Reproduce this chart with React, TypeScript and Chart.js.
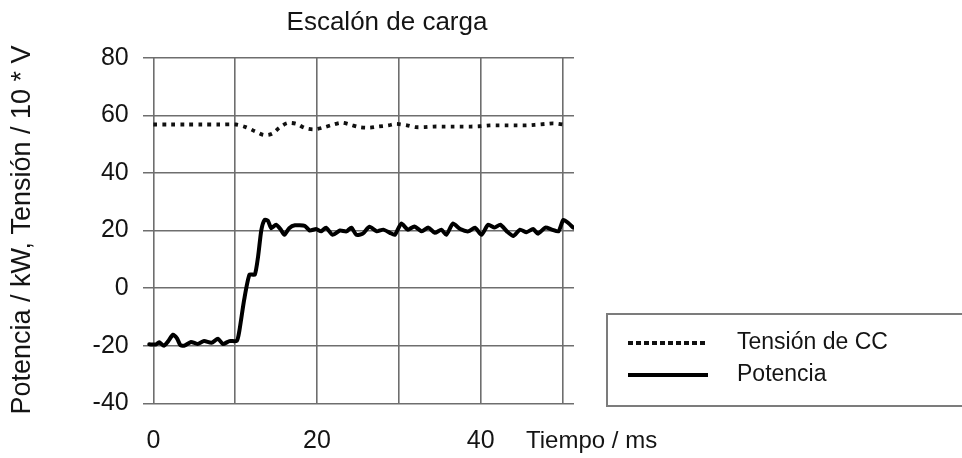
import { useEffect, useRef } from "react";
import { Chart, registerables } from "chart.js";

Chart.register(...registerables);

const TITLE = "Escalón de carga";
const Y_TITLE = "Potencia / kW, Tensión / 10 * V";
const X_TITLE = "Tiempo / ms";
const SERIES_NAMES = ["Tensión de CC", "Potencia"];

const X_GRID_TICKS = [0, 10, 20, 30, 40, 50];
const X_LABELED_TICKS = [0, 20, 40];
const Y_MIN = -40;
const Y_MAX = 80;
const Y_STEP = 20;

// Tensión de CC (10 * V)
const VOLT_T = [0, 2, 4, 6, 8, 10.1, 11.3, 12.4, 13.5, 14.5, 15.4, 16.4, 17.5, 18.5, 19.6, 20.7, 21.9, 23.0, 24.0, 25.2, 26.4, 27.5, 28.7, 29.7, 31.0, 32.0, 33.2, 34.2, 35.4, 36.6, 37.6, 38.8, 39.8, 41.1, 42.1, 43.2, 44.4, 45.6, 46.6, 47.9, 48.9, 50.1];
const VOLT_V = [56.8, 56.8, 56.8, 56.8, 56.8, 56.8, 55.9, 54.5, 53.2, 53.6, 55.7, 57.3, 57.0, 55.6, 55.1, 55.7, 56.7, 57.4, 56.8, 55.9, 55.7, 56.1, 56.5, 57.0, 56.5, 55.9, 55.9, 56.1, 56.1, 56.1, 56.1, 56.1, 56.2, 56.5, 56.5, 56.5, 56.5, 56.5, 56.7, 57.0, 57.2, 56.8];

// Potencia (kW)
const POWER_T = [-0.5, 0.3, 0.7, 1.3, 1.8, 2.4, 2.9, 3.3, 3.8, 4.6, 5.4, 6.2, 7.1, 7.9, 8.5, 9.3, 10.2, 10.5, 11.1, 11.75, 12.4, 12.8, 13.2, 13.6, 14.0, 14.4, 15.0, 15.6, 16.0, 16.6, 17.3, 18.5, 19.1, 19.9, 20.5, 21.1, 21.9, 22.8, 23.6, 24.2, 24.8, 25.6, 26.4, 27.3, 28.1, 28.9, 29.5, 30.3, 31.1, 31.9, 32.8, 33.6, 34.4, 35.2, 35.8, 36.6, 37.5, 38.5, 39.3, 40.1, 40.9, 41.7, 42.4, 43.2, 44.0, 44.8, 45.6, 46.4, 47.0, 47.9, 48.7, 49.5, 50.1, 50.7, 51.3];
const POWER_V = [-19.5, -19.6, -18.8, -20, -18.5, -16.2, -17.5, -19.8, -20, -18.7, -19.4, -18.4, -19, -17.6, -19.4, -18.4, -18.3, -15, -4, 4.7, 4.7, 11, 20.2, 23.7, 23.4, 20.8, 22, 20.2, 18.5, 20.8, 21.8, 21.6, 20, 20.5, 19.7, 21, 18.5, 20, 19.7, 21, 18.5, 18.9, 21.3, 19.7, 20.3, 19.2, 18.5, 22.4, 20.3, 21.4, 19.7, 21, 19.2, 20.3, 18.5, 22.4, 20.5, 19.7, 21, 18.5, 22, 21, 22, 19.7, 18.1, 20.3, 19.4, 20.5, 18.9, 21, 20.3, 19.7, 23.7, 22.6, 21];

const FONT = '"Liberation Sans", Arial, sans-serif';
const TEXT = "#141414";
const GRID = "#6e6e6e";

const overlayPlugin = {
  id: "overlay",
  afterDraw(chart: any) {
    const ctx = chart.ctx as CanvasRenderingContext2D;
    const area = chart.chartArea;
    ctx.save();
    ctx.fillStyle = TEXT;
    // Title
    ctx.font = `26px ${FONT}`;
    ctx.textAlign = "center";
    ctx.textBaseline = "middle";
    ctx.fillText(TITLE, 387, 23);
    // Y title
    ctx.save();
    ctx.translate(23, 230);
    ctx.rotate(-Math.PI / 2);
    ctx.font = `27px ${FONT}`;
    ctx.fillText(Y_TITLE, 0, 0);
    ctx.restore();
    // X title
    ctx.font = `24px ${FONT}`;
    ctx.textAlign = "left";
    ctx.fillText(X_TITLE, 526, 441);
    // Legend box
    const bx = area.right + 33;
    ctx.strokeStyle = "#7c7c7c";
    ctx.lineWidth = 2;
    ctx.strokeRect(bx, 314, 400, 92);
    const ds = chart.data.datasets;
    const rows = [343, 375];
    ds.forEach((d: any, i: number) => {
      const y = rows[i];
      ctx.save();
      ctx.strokeStyle = d.borderColor;
      ctx.lineWidth = 4;
      ctx.setLineDash(i === 0 ? [5, 3] : []);
      ctx.beginPath();
      ctx.moveTo(bx + 21, y);
      ctx.lineTo(bx + 101, y);
      ctx.stroke();
      ctx.restore();
      ctx.fillStyle = TEXT;
      ctx.font = `23px ${FONT}`;
      ctx.textAlign = "left";
      ctx.textBaseline = "middle";
      ctx.fillText(d.label, bx + 130, y);
    });
    ctx.restore();
  },
};

export default function App() {
  const ref = useRef<HTMLCanvasElement | null>(null);
  useEffect(() => {
    document.body.style.margin = "0";
    const canvas = ref.current!;
    const chart = new Chart(canvas, {
      type: "line",
      data: {
        datasets: [
          {
            label: SERIES_NAMES[0],
            data: VOLT_T.map((t, i) => ({ x: t, y: VOLT_V[i] })),
            borderColor: "#111",
            borderWidth: 3.8,
            borderDash: [3.8, 5.2],
            borderCapStyle: "butt",
            pointRadius: 0,
            tension: 0.3,
            fill: false,
          },
          {
            label: SERIES_NAMES[1],
            data: POWER_T.map((t, i) => ({ x: t, y: POWER_V[i] })),
            borderColor: "#000",
            borderWidth: 4,
            borderJoinStyle: "round",
            borderCapStyle: "round",
            pointRadius: 0,
            tension: 0.2,
            fill: false,
          },
        ],
      },
      options: {
        animation: false,
        responsive: false,
        devicePixelRatio: 1,
        layout: { padding: { top: 57.7, right: 388, bottom: 0, left: 0 } },
        plugins: {
          legend: { display: false },
          title: { display: false },
          tooltip: { enabled: false },
        },
        scales: {
          x: {
            type: "linear",
            min: -1.3,
            max: 51.4,
            border: { display: false },
            grid: { color: GRID, lineWidth: 1.6, drawTicks: false },
            afterBuildTicks: (axis: any) => {
              axis.ticks = X_GRID_TICKS.map((v) => ({ value: v }));
            },
            afterFit: (axis: any) => {
              axis.height = 54.7;
            },
            ticks: {
              autoSkip: false,
              maxRotation: 0,
              padding: 23,
              color: TEXT,
              font: { family: FONT, size: 25 },
              callback: (v: any) => (X_LABELED_TICKS.includes(Number(v)) ? String(v) : ""),
            },
          },
          y: {
            min: Y_MIN,
            max: Y_MAX,
            border: { display: false },
            grid: { color: GRID, lineWidth: 1.6, drawTicks: false },
            afterFit: (axis: any) => {
              axis.width = 142.7;
            },
            ticks: {
              stepSize: Y_STEP,
              padding: 14,
              color: TEXT,
              font: { family: FONT, size: 25 },
            },
          },
        },
      },
      plugins: [overlayPlugin],
    });
    return () => chart.destroy();
  }, []);
  return <canvas ref={ref} width={962} height={458} style={{ display: "block", width: 962, height: 458 }} />;
}
